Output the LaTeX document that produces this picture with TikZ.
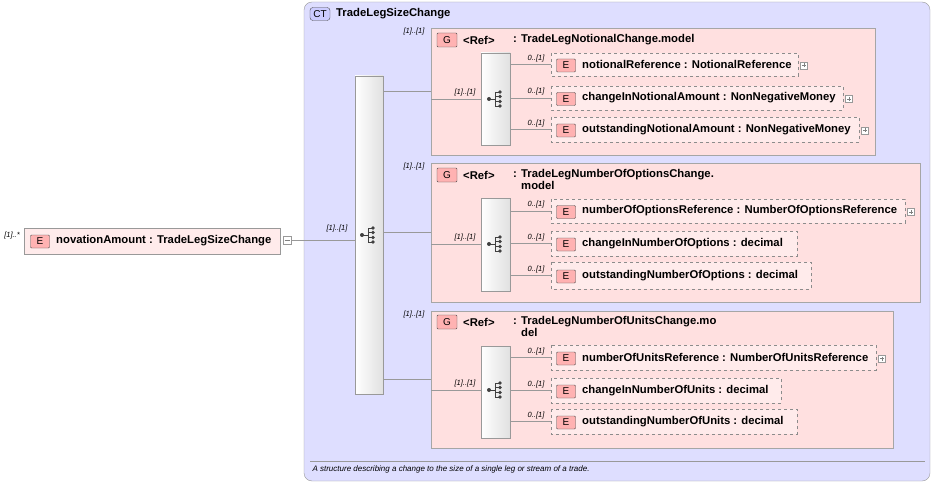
\documentclass[tikz,border=0pt]{standalone}
\usepackage{fontspec}
\setmainfont{Liberation Sans}
\begin{document}
\begin{tikzpicture}[x=1pt,y=-1pt,font=\fontsize{11.3}{12}\selectfont,
 lbl/.style={font=\fontsize{7.5}{8}\selectfont\itshape,inner sep=0pt},
 badge/.style={draw=black!70,fill=red!30,rounded corners=1pt,inner sep=0pt,minimum width=19pt,minimum height=13pt,font=\fontsize{10}{10}\selectfont},
 elem/.style={draw=black!45,dashed,fill=red!8},
 grp/.style={draw=black!35,fill=red!12},
 seq/.style={draw=black!40,left color=white,right color=black!12},
 con/.style={draw=black!40},
 bt/.style={anchor=west,font=\fontsize{11.3}{12}\selectfont\bfseries,inner sep=0pt},
 pm/.style={draw=black!40,fill=white,minimum size=8pt,inner sep=0pt}]
\useasboundingbox (0,0) rectangle (934,484);
\newcommand\seqicon[2]{%
 \fill[black!75] (#1-7,#2) circle (2pt); \draw[black!75,line width=0.9pt] (#1-7,#2)--(#1-1,#2);
 \draw[black!75,line width=0.9pt] (#1-1,#2-7)--(#1-1,#2+7);
 \foreach \d in {-7,-2.5,2.5,7} {\draw[black!75,line width=0.9pt] (#1-1,#2+\d)--(#1+4,#2+\d); \fill[black!75] (#1+4,#2+\d) circle (1.9pt);}}
% outer CT
\node[draw=black!40,fill=blue!13,rounded corners=8pt,minimum width=626pt,minimum height=479pt,inner sep=0pt] (ct) at (617,241.5) {};
\node[draw=black!70,fill=blue!20,rounded corners=3pt,inner sep=0pt,minimum width=20pt,minimum height=13pt,font=\fontsize{10}{10}\selectfont] (ctb) at (320,14) {CT};
\node[bt] (ctt) at (336,14) {TradeLegSizeChange};
\draw[black!40] (310,461)--(925,461);
\node[anchor=west,font=\fontsize{8}{9}\selectfont\itshape] (desc) at (309,469) {A structure describing a change to the size of a single leg or stream of a trade.};
% root element
\node[draw=black!40,fill=red!8,minimum width=256pt,minimum height=26pt,inner sep=0pt] (root) at (152,241) {};
\node[badge] (rb) at (40,241.5) {E};
\node[bt] (rt) at (56,241) {novationAmount : TradeLegSizeChange};
\node[pm] (rm) at (287,240) {}; \draw[black!50] (284.5,240)--(289.5,240);
\node[lbl] (rl) at (12,236) {[1]..*};
% main sequence
\node[seq,minimum width=28pt,minimum height=318pt,inner sep=0pt] (ms) at (369,235) {};
\draw[con] (rm.east)--(ms.west|-rm.east);
\node[lbl] (msl) at (337,229) {[1]..[1]};
\seqicon{369}{235}
% groups
\foreach \n/\xa/\ya/\xb/\yb/\ty/\cy/\t/\tb in {
 g1/431/28/875/155/40/99/{: TradeLegNotionalChange.model}/{},
 g2/431/163/920/302/175/244/{: TradeLegNumberOfOptionsChange.}/{model},
 g3/431/311/893/448/322/390/{: TradeLegNumberOfUnitsChange.mo}/{del}}{
 \path[grp] (\xa,\ya) rectangle (\xb,\yb);
 \node[badge,minimum width=20pt,minimum height=14pt] (\n b) at (447,\ty) {G};
 \node[bt] (\n r) at (463,\ty) {<Ref>};
 \node[anchor=north west,align=left,font=\fontsize{11.3}{12}\selectfont\bfseries,inner sep=0pt] (\n t) at (513,\ty-6) {\t\\\hspace*{8pt}\tb};
 \node[lbl] (\n l) at (414,\ya+4) {[1]..[1]};
 \node[lbl] (\n sl) at (465,\cy-6) {[1]..[1]};
 \draw[con] (431,\cy)--(481,\cy);
}
\draw[con] (383,91)--(431,91);
\draw[con] (383,232)--(431,232);
\draw[con] (383,379)--(431,379);
\foreach \ya/\yb/\cy in {53/145/99,198/291/244,346/438/390}{
 \path[seq] (481,\ya) rectangle (510,\yb);
 \seqicon{496}{\cy}}
% children
\foreach \ya/\yb/\xb/\nm/\ty/\p in {
 53/76/798/notionalReference/NotionalReference/1,
 86/110/843/changeInNotionalAmount/NonNegativeMoney/1,
 117/142/859/outstandingNotionalAmount/NonNegativeMoney/1,
 199/223/905/numberOfOptionsReference/NumberOfOptionsReference/1,
 231/256/797/changeInNumberOfOptions/decimal/0,
 262/289/811/outstandingNumberOfOptions/decimal/0,
 345/370/876/numberOfUnitsReference/NumberOfUnitsReference/1,
 378/403/781/changeInNumberOfUnits/decimal/0,
 409/434/797/outstandingNumberOfUnits/decimal/0}{
 \path[elem] (551,\ya) rectangle (\xb,\yb);
 \draw[con] (510,{(\ya+\yb)/2})--(551,{(\ya+\yb)/2});
 \node[lbl] at (536,{(\ya+\yb)/2-6}) {0..[1]};
 \node[badge] at (566,{(\ya+\yb)/2+1}) {E};
 \node[bt] at (582,{(\ya+\yb)/2}) {\nm\ : \ty};
 \ifnum\p=1 \node[pm,minimum size=7pt] at (\xb+6,{(\ya+\yb)/2+1}) {}; \draw[black!50] (\xb+4,{(\ya+\yb)/2+1})--(\xb+8,{(\ya+\yb)/2+1}); \draw[black!50] (\xb+6,{(\ya+\yb)/2-1})--(\xb+6,{(\ya+\yb)/2+3});\fi
}
\end{tikzpicture}
\end{document}
